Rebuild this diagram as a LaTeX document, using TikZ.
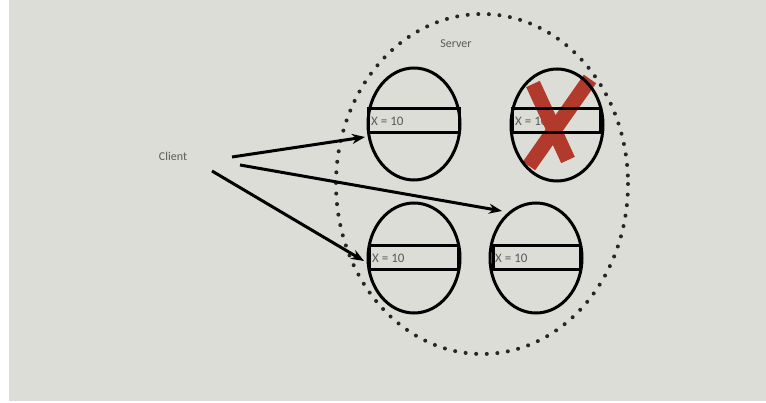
\documentclass[tikz,border=0pt]{standalone}
\usepackage{fontspec}
\setmainfont{Carlito}
\usetikzlibrary{arrows.meta,shapes.geometric}
\definecolor{bg}{HTML}{DCDDD6}
\definecolor{redx}{HTML}{B23A2C}
\definecolor{txt}{HTML}{5A5A5A}
\tikzset{
  srv/.style={draw=black,line width=3pt,ellipse,inner sep=0pt},
  valfill/.style={fill=bg},
  valbox/.style={draw=black,line width=3pt},
  val/.style={font=\fontsize{13}{14}\selectfont,text=txt,anchor=west,inner sep=0pt},
  lbl/.style={font=\fontsize{12}{13}\selectfont,text=txt,inner sep=0pt},
  req/.style={line width=3pt,-{Stealth[length=13pt,width=10pt]}},
  cross/.style={line width=15pt,redx}
}
\begin{document}
\begin{tikzpicture}[x=1pt,y=-1pt]
\useasboundingbox (0,0) rectangle (766,403);
\fill[white] (0,0) rectangle (766,403);
\fill[bg] (9,0) rectangle (766,401);
% dotted server ellipse
\draw[line width=4pt,dash pattern=on 0pt off 10.6pt,line cap=round,black!85] (482,184) ellipse [x radius=146, y radius=170];
\node[lbl] (server) at (456,44) {Server};
\node[lbl] (client) at (173,156) {Client};
% value fields
\fill[valfill] (368,109) rectangle (459,133);
\fill[valfill] (512,109) rectangle (600,133);
\fill[valfill] (369,246) rectangle (458,270);
\fill[valfill] (493,246) rectangle (580,270);
\node[val] (v1) at (371,121) {X = 10};
\node[val] (v2) at (515,121) {X = 10};
\node[val] (v3) at (372,258) {X = 10};
\node[val] (v4) at (495,258) {X = 10};
% red cross
\draw[cross] (533,84) -- (568,160);
\draw[cross] (590,79) -- (529,166);
% replicas (outlines above the cross)
\node[srv,minimum width=92pt,minimum height=112pt] (r1) at (414,124) {};
\node[srv,minimum width=92pt,minimum height=112pt] (r2) at (557,125) {};
\node[srv,minimum width=92pt,minimum height=110pt] (r3) at (414,258) {};
\node[srv,minimum width=92pt,minimum height=110pt] (r4) at (536,258) {};
\draw[valbox] (368,109) rectangle (459,133);
\draw[valbox] (512,109) rectangle (600,133);
\draw[valbox] (369,246) rectangle (458,270);
\draw[valbox] (493,246) rectangle (580,270);
% requests
\coordinate (c1) at (232,157);
\coordinate (c2) at (240,165);
\coordinate (c3) at (212,171);
\coordinate (t1) at (365,137);
\coordinate (t2) at (502,211);
\coordinate (t3) at (364,261);
\draw[req] (c1) -- (t1);
\draw[req] (c2) -- (t2);
\draw[req] (c3) -- (t3);
\end{tikzpicture}
\end{document}
